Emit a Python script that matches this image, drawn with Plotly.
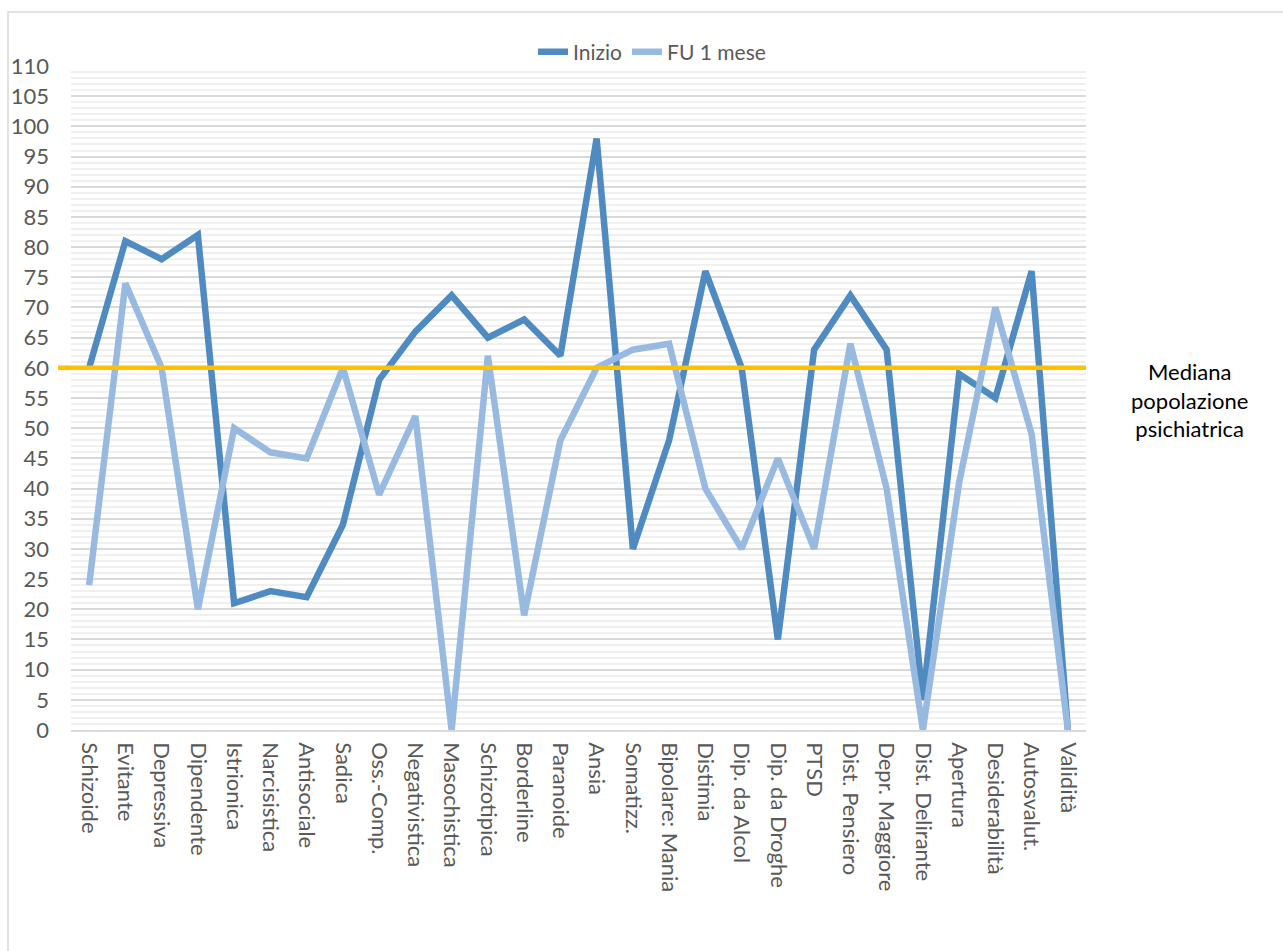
import plotly.graph_objects as go

categories = ["Schizoide", "Evitante", "Depressiva", "Dipendente", "Istrionica", "Narcisistica",
              "Antisociale", "Sadica", "Oss.-Comp.", "Negativistica", "Masochistica", "Schizotipica",
              "Borderline", "Paranoide", "Ansia", "Somatizz.", "Bipolare: Mania", "Distimia",
              "Dip. da Alcol", "Dip. da Droghe", "PTSD", "Dist. Pensiero", "Depr. Maggiore",
              "Dist. Delirante", "Apertura", "Desiderabilità", "Autosvalut.", "Validità"]

inizio = [60, 81, 78, 82, 21, 23, 22, 34, 58, 66, 72, 65, 68, 62, 98, 30, 48, 76,
          60, 15, 63, 72, 63, 5, 59, 55, 76, 0]

fu_1_mese = [24, 74, 60, 20, 50, 46, 45, 60, 39, 52, 0, 62, 19, 48, 60, 63, 64, 40,
             30, 45, 30, 64, 40, 0, 41, 70, 49, 0]

mediana = 60
y_ticks = list(range(0, 111, 5))

FONT = "Lato"
W, H = 1283, 951
L, R, T, B = 71, 1086, 66, 730
pw, ph = R - L, B - T


def px_x(x):
    return (x - L) / pw


def px_y(y):
    return (B - y) / ph


fig = go.Figure()
fig.add_trace(go.Scatter(x=categories, y=inizio, mode="lines", name="Inizio",
                         line=dict(color="#4f8bc0", width=6.5)))
fig.add_trace(go.Scatter(x=categories, y=fu_1_mese, mode="lines", name="FU 1 mese",
                         line=dict(color="#98bae0", width=6.5)))

# outer chart border
fig.add_shape(type="rect", xref="paper", yref="paper",
              x0=px_x(8), x1=px_x(1300), y0=px_y(980), y1=px_y(12),
              line=dict(color="#d9d9d9", width=1.5), fillcolor="rgba(0,0,0,0)", layer="below")

# median line
fig.add_shape(type="line", xref="paper", yref="y",
              x0=px_x(58), x1=1, y0=mediana, y1=mediana,
              line=dict(color="#ffc000", width=4.5))

fig.add_annotation(xref="paper", yref="paper", x=px_x(1189), y=px_y(400),
                   xanchor="center", yanchor="middle",
                   text="Mediana<br>popolazione<br>psichiatrica", showarrow=False,
                   align="center", font=dict(family=FONT, size=22, color="#000000"))

fig.update_layout(
    width=W, height=H,
    margin=dict(l=L, r=W - R, t=T, b=H - B, autoexpand=False),
    paper_bgcolor="white", plot_bgcolor="white",
    font=dict(family=FONT, size=21, color="#595959"),
    showlegend=True,
    legend=dict(orientation="h", xref="container", yref="container",
                x=652 / W, xanchor="center", y=1 - 52 / H, yanchor="middle",
                font=dict(family=FONT, size=21, color="#595959"),
                bgcolor="rgba(0,0,0,0)", itemwidth=30),
    xaxis=dict(type="category", categoryorder="array", categoryarray=categories,
               range=[-0.5, len(categories) - 0.5], tickangle=90,
               showgrid=False, showline=True, linecolor="#d9d9d9", linewidth=1.5,
               ticks="", ticklabelstandoff=6,
               tickfont=dict(family=FONT, size=22, color="#595959"),
               zeroline=False),
    yaxis=dict(range=[0, 110], tickvals=y_ticks, ticktext=[str(v) for v in y_ticks],
               showgrid=True, gridcolor="#d9d9d9", gridwidth=1.5,
               minor=dict(dtick=1, showgrid=True, gridcolor="#f0f0f0", gridwidth=1.5),
               zeroline=False, showline=False, ticks="",
               ticklabelstandoff=21,
               tickfont=dict(family=FONT, size=22, color="#595959")),
)

fig.write_html("out.html")
